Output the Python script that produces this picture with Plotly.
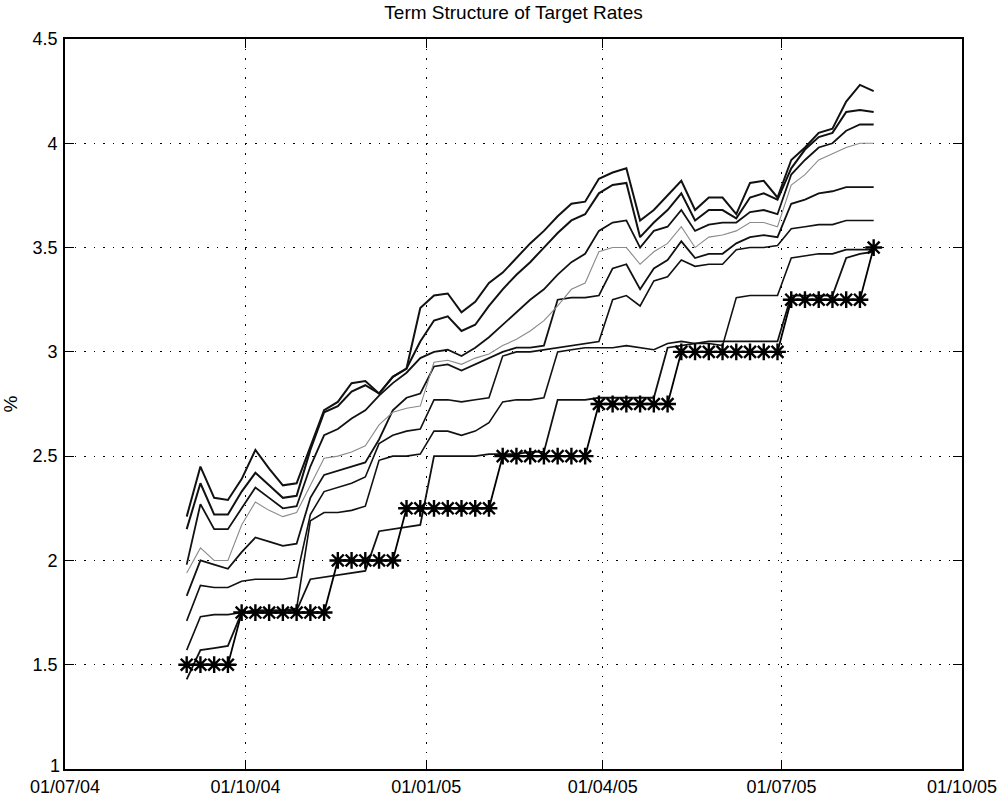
import pandas as pd
import plotly.graph_objects as go

# Weekly observation dates (Wednesdays)
dates = pd.date_range("2004-09-01", periods=51, freq="7D")

# Fed funds target rate (%)
target = [1.50, 1.50, 1.50, 1.50,
          1.75, 1.75, 1.75, 1.75, 1.75, 1.75, 1.75,
          2.00, 2.00, 2.00, 2.00, 2.00,
          2.25, 2.25, 2.25, 2.25, 2.25, 2.25, 2.25,
          2.50, 2.50, 2.50, 2.50, 2.50, 2.50, 2.50,
          2.75, 2.75, 2.75, 2.75, 2.75, 2.75,
          3.00, 3.00, 3.00, 3.00, 3.00, 3.00, 3.00, 3.00,
          3.25, 3.25, 3.25, 3.25, 3.25, 3.25,
          3.50]

# Implied target rates at successive horizons (%)
h1 = [1.43, 1.57, 1.58, 1.59, 1.75, 1.76, 1.76, 1.76, 1.76, 1.91,
      1.92, 1.93, 1.94, 1.95, 2.14, 2.15, 2.16, 2.17, 2.50, 2.50,
      2.50, 2.50, 2.51, 2.51, 2.51, 2.52, 2.52, 2.77, 2.77, 2.77,
      2.78, 2.78, 2.78, 2.78, 2.78, 3.02, 3.03, 3.04, 3.05, 3.05,
      3.05, 3.05, 3.05, 3.05, 3.27, 3.27, 3.27, 3.27, 3.45, 3.47,
      3.48]
h2 = [1.57, 1.73, 1.74, 1.74, 1.75, 1.76, 1.76, 1.76, 1.77, 2.19,
      2.23, 2.23, 2.24, 2.26, 2.48, 2.50, 2.50, 2.51, 2.62, 2.62,
      2.60, 2.62, 2.66, 2.76, 2.77, 2.77, 2.78, 3.00, 3.01, 3.02,
      3.02, 3.02, 3.03, 3.02, 3.01, 3.04, 3.05, 3.04, 3.04, 3.03,
      3.26, 3.27, 3.27, 3.27, 3.45, 3.46, 3.47, 3.47, 3.49, 3.49,
      3.49]
h3 = [1.71, 1.88, 1.87, 1.87, 1.90, 1.91, 1.91, 1.91, 1.92, 2.22,
      2.33, 2.35, 2.37, 2.40, 2.56, 2.60, 2.62, 2.63, 2.77, 2.77,
      2.76, 2.77, 2.78, 2.98, 3.00, 3.00, 3.01, 3.02, 3.03, 3.04,
      3.05, 3.25, 3.27, 3.22, 3.34, 3.36, 3.44, 3.41, 3.42, 3.42,
      3.49, 3.50, 3.50, 3.51, 3.59, 3.60, 3.61, 3.61, 3.63, 3.63,
      3.63]
h4 = [1.83, 2.00, 1.98, 1.96, 2.04, 2.11, 2.09, 2.07, 2.08, 2.30,
      2.41, 2.43, 2.45, 2.47, 2.58, 2.72, 2.78, 2.80, 2.93, 2.94,
      2.91, 2.94, 2.97, 3.00, 3.02, 3.02, 3.03, 3.25, 3.26, 3.26,
      3.27, 3.40, 3.42, 3.30, 3.40, 3.44, 3.53, 3.45, 3.47, 3.47,
      3.52, 3.55, 3.56, 3.55, 3.71, 3.73, 3.76, 3.77, 3.79, 3.79,
      3.79]
h5 = [1.94, 2.06, 2.00, 2.00, 2.17, 2.28, 2.24, 2.21, 2.23, 2.36,
      2.49, 2.50, 2.52, 2.55, 2.65, 2.71, 2.73, 2.74, 2.95, 2.96,
      2.94, 2.97, 2.99, 3.03, 3.06, 3.10, 3.15, 3.22, 3.30, 3.33,
      3.48, 3.50, 3.50, 3.42, 3.48, 3.52, 3.60, 3.50, 3.55, 3.56,
      3.58, 3.62, 3.62, 3.60, 3.80, 3.85, 3.92, 3.95, 3.98, 4.00,
      4.00]
h6 = [1.98, 2.27, 2.15, 2.15, 2.25, 2.35, 2.30, 2.25, 2.26, 2.45,
      2.60, 2.63, 2.68, 2.72, 2.79, 2.85, 2.90, 2.97, 3.00, 3.01,
      2.98, 3.02, 3.07, 3.13, 3.19, 3.25, 3.30, 3.37, 3.43, 3.47,
      3.58, 3.62, 3.63, 3.50, 3.58, 3.60, 3.68, 3.58, 3.61, 3.62,
      3.62, 3.67, 3.68, 3.66, 3.85, 3.92, 3.98, 4.00, 4.06, 4.09,
      4.09]
h7 = [2.15, 2.37, 2.22, 2.22, 2.33, 2.42, 2.36, 2.30, 2.31, 2.53,
      2.71, 2.74, 2.81, 2.84, 2.80, 2.88, 2.92, 3.05, 3.15, 3.17,
      3.10, 3.13, 3.22, 3.30, 3.37, 3.43, 3.50, 3.57, 3.63, 3.66,
      3.76, 3.80, 3.81, 3.55, 3.62, 3.68, 3.76, 3.63, 3.68, 3.68,
      3.64, 3.74, 3.76, 3.73, 3.88, 3.97, 4.03, 4.05, 4.15, 4.16,
      4.15]
h8 = [2.21, 2.45, 2.30, 2.29, 2.39, 2.53, 2.44, 2.36, 2.37, 2.55,
      2.72, 2.76, 2.85, 2.86, 2.80, 2.88, 2.92, 3.21, 3.27, 3.28,
      3.19, 3.24, 3.33, 3.38, 3.45, 3.52, 3.58, 3.65, 3.71, 3.72,
      3.83, 3.86, 3.88, 3.63, 3.68, 3.75, 3.82, 3.68, 3.74, 3.74,
      3.66, 3.81, 3.82, 3.74, 3.92, 3.98, 4.05, 4.07, 4.20, 4.28,
      4.25]

horizons = [h1, h2, h3, h4, h5, h6, h7, h8]
line_colors = ["#111111", "#111111", "#111111", "#111111",
               "#8a8a8a", "#111111", "#111111", "#111111"]
line_widths = [1.8, 1.6, 1.6, 1.8, 1.1, 1.8, 2.0, 2.0]

tick_dates = ["2004-07-01", "2004-10-01", "2005-01-01",
              "2005-04-01", "2005-07-01", "2005-10-01"]
tick_text = ["01/07/04", "01/10/04", "01/01/05",
             "01/04/05", "01/07/05", "01/10/05"]
y_ticks = [1, 1.5, 2, 2.5, 3, 3.5, 4, 4.5]
# the bottom label "1" is placed separately, nudged above the date labels
y_text = ["", "1.5", "2", "2.5", "3", "3.5", "4", "4.5"]

fig = go.Figure()
for vals, col, w in zip(horizons, line_colors, line_widths):
    fig.add_trace(go.Scatter(x=dates, y=vals, mode="lines",
                             line=dict(color=col, width=w),
                             showlegend=False, hoverinfo="skip"))

fig.add_trace(go.Scatter(x=dates, y=target, mode="lines+markers",
                         line=dict(color="#000000", width=1.8),
                         marker=dict(symbol="asterisk-open", size=14,
                                     line=dict(color="#000000", width=2.4)),
                         showlegend=False, hoverinfo="skip"))

font_family = "Liberation Sans, Arial, Helvetica, sans-serif"

fig.add_annotation(text="1", x=0, xref="paper", xanchor="right", xshift=-3,
                   y=1, yref="y", yanchor="bottom", yshift=-9,
                   showarrow=False,
                   font=dict(size=18, family=font_family, color="black"))

fig.update_layout(
    width=1003, height=798,
    margin=dict(l=65, r=41, t=39, b=29),
    paper_bgcolor="white", plot_bgcolor="white",
    font=dict(family=font_family, color="black", size=18),
    title=dict(text="Term Structure of Target Rates", x=0.512, xanchor="center",
               y=1 - 12 / 798, yref="container", yanchor="middle",
               font=dict(size=19, family=font_family, color="black")),
    xaxis=dict(
        type="date", automargin=False,
        range=["2004-07-01", "2005-10-01"],
        tickvals=tick_dates, ticktext=tick_text,
        ticks="inside", ticklen=9, tickcolor="black", tickwidth=1.3,
        showline=True, linecolor="black", linewidth=1.8, mirror="ticks",
        showgrid=True, gridcolor="black", gridwidth=1.3, griddash="1.5px,8px",
        zeroline=False, ticklabelstandoff=0,
        tickfont=dict(size=18, family=font_family, color="black"),
    ),
    yaxis=dict(
        range=[1, 4.5], automargin=False,
        tickvals=y_ticks, ticktext=y_text,
        ticks="inside", ticklen=9, tickcolor="black", tickwidth=1.3,
        showline=True, linecolor="black", linewidth=1.8, mirror="ticks",
        showgrid=True, gridcolor="black", gridwidth=1.3, griddash="1.5px,8px",
        zeroline=False, ticklabelstandoff=2,
        tickfont=dict(size=18, family=font_family, color="black"),
        title=dict(text="%", standoff=16,
                   font=dict(size=19, family=font_family, color="black")),
    ),
)

fig.write_html("out.html")
